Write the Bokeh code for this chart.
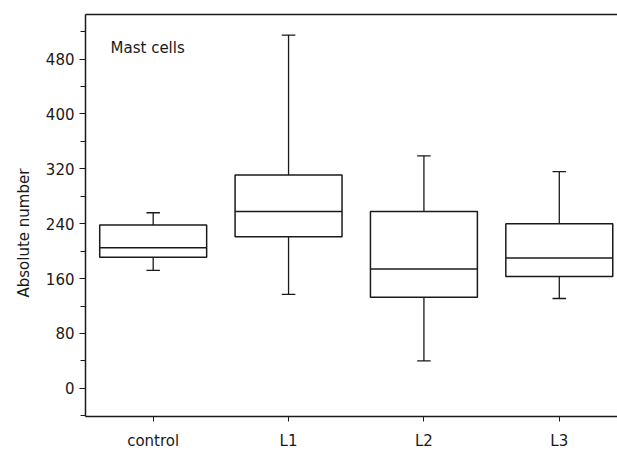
from bokeh.plotting import figure
from bokeh.models import FixedTicker, SingleIntervalTicker, LinearAxis, Range1d, Label, Title
from bokeh.embed import file_html
from bokeh.resources import INLINE

categories = ["control", "L1", "L2", "L3"]
lower_whisker = [172, 137, 40, 131]
q1 = [191, 221, 133, 163]
median = [205, 258, 174, 190]
q3 = [238, 311, 258, 240]
upper_whisker = [256, 515, 339, 316]

xs = [i + 1 for i in range(len(categories))]
FONT = "DejaVu Sans"
INK = "#1a1a1a"

p = figure(width=617, height=452, output_backend="svg", toolbar_location=None,
           x_range=Range1d(0.5, 4.43), y_range=Range1d(-41, 545),
           min_border_left=85, min_border_right=0, min_border_top=14, min_border_bottom=36)
p.outline_line_color = None
p.grid.visible = False
p.background_fill_color = "white"
p.border_fill_color = "white"

# whiskers
p.segment(x0=xs, y0=q3, x1=xs, y1=upper_whisker, line_color=INK, line_width=1.3)
p.segment(x0=xs, y0=q1, x1=xs, y1=lower_whisker, line_color=INK, line_width=1.3)
cap = 0.05
p.segment(x0=[x - cap for x in xs], y0=upper_whisker, x1=[x + cap for x in xs], y1=upper_whisker,
          line_color=INK, line_width=1.3)
p.segment(x0=[x - cap for x in xs], y0=lower_whisker, x1=[x + cap for x in xs], y1=lower_whisker,
          line_color=INK, line_width=1.3)
# boxes
p.vbar(x=xs, width=0.79, bottom=q1, top=q3, fill_color="white", line_color=INK, line_width=1.5)
# medians
p.segment(x0=[x - 0.395 for x in xs], y0=median, x1=[x + 0.395 for x in xs], y1=median,
          line_color=INK, line_width=1.5)

# x axis
xa = p.xaxis[0]
xa.ticker = FixedTicker(ticks=xs)
xa.major_label_overrides = {x: c for x, c in zip(xs, categories)}
xa.minor_tick_line_color = None
xa.major_tick_out = 5
xa.major_tick_in = 0
xa.major_label_standoff = 10
xa.axis_line_width = 1.5
xa.axis_line_color = INK
xa.major_tick_line_color = INK
xa.major_label_text_font = FONT
xa.major_label_text_font_size = "15px"
xa.major_label_text_color = INK

# y axis
ya = p.yaxis[0]
ya.ticker = SingleIntervalTicker(interval=80, num_minor_ticks=2)
ya.major_tick_out = 6
ya.major_tick_in = 0
ya.minor_tick_out = 5
ya.minor_tick_in = 0
ya.axis_line_width = 1.5
ya.axis_line_color = INK
ya.major_tick_line_color = INK
ya.minor_tick_line_color = INK
ya.major_label_text_font = FONT
ya.major_label_text_font_size = "15px"
ya.major_label_text_color = INK
ya.major_label_standoff = 5

# y axis title, placed lower like the reference
p.add_layout(Title(text="Absolute number", align="left", offset=119,
                   text_font=FONT, text_font_size="15px", text_font_style="normal",
                   text_color=INK, standoff=19), "left")

# top line
top = LinearAxis(ticker=FixedTicker(ticks=[]), major_label_text_font_size="0px",
                 axis_line_width=1.5, axis_line_color=INK)
p.add_layout(top, "above")

p.add_layout(Label(x=0.685, y=496, text="Mast cells", text_font=FONT, text_font_size="15px",
                   text_color=INK, text_baseline="middle"))

open("out.html", "w").write(file_html(p, INLINE))
